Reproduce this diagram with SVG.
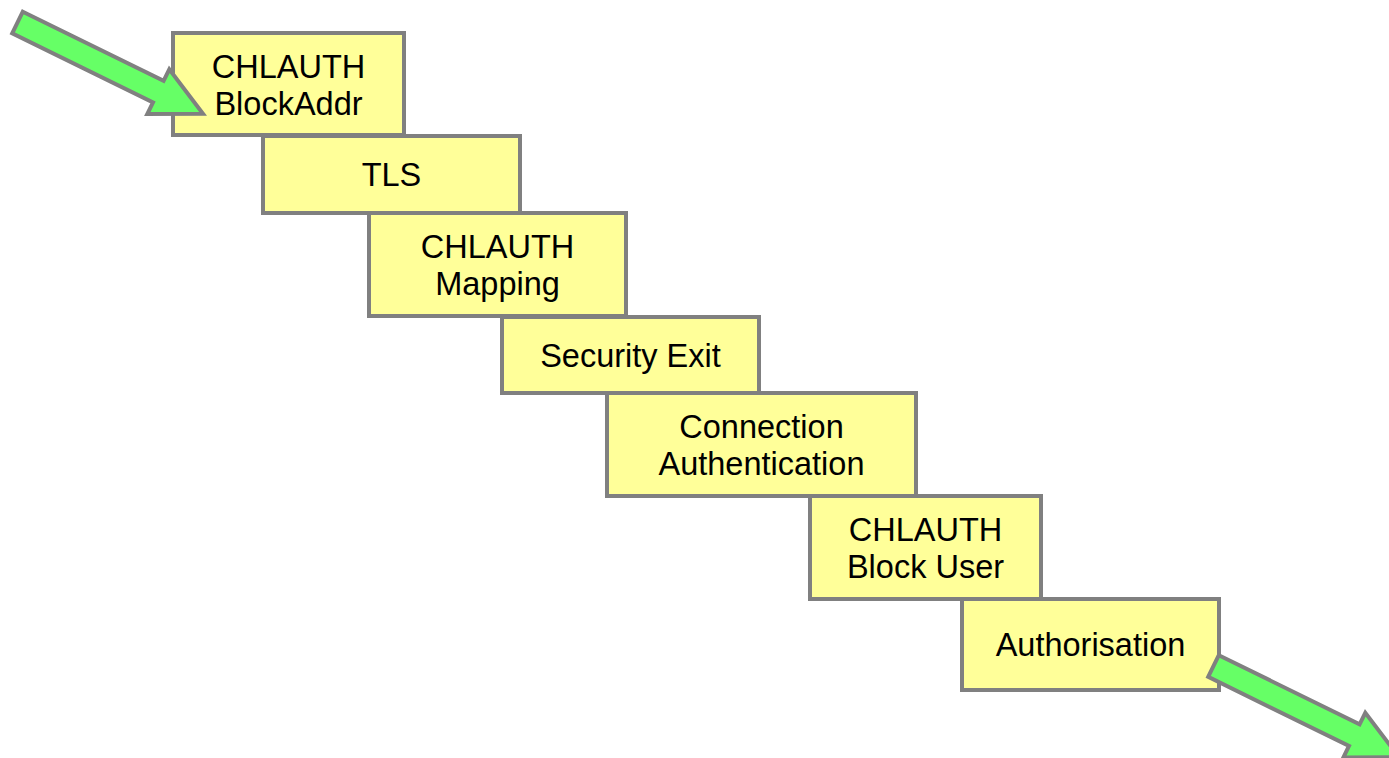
<svg xmlns="http://www.w3.org/2000/svg" xmlns:xlink="http://www.w3.org/1999/xlink" width="1389" height="758" viewBox="0 0 1389 758">
<style>
.box{fill:#FFFF99;stroke:#808080;stroke-width:4}
.lbl{font-family:"Liberation Sans",Arial,sans-serif;font-size:32.5px;fill:#000;text-anchor:middle}
.arr{fill:#66FF66;stroke:#808080;stroke-width:4;stroke-linejoin:miter}
</style>
<defs>
<polygon id="bigArrow" class="arr" points="22.8,11.7 163.6,80.9 169.3,69.3 203,113.7 147.3,114.1 153,102.5 12.2,33.3"/>
</defs>
<rect width="1389" height="758" fill="#fff"/>
<g id="n1"><rect class="box" x="173" y="33" width="231" height="102"/><text class="lbl" x="288.5" y="78">CHLAUTH</text><text class="lbl" x="288.5" y="115">BlockAddr</text></g>
<g id="n2"><rect class="box" x="263" y="136" width="257" height="77"/><text class="lbl" x="391.5" y="186">TLS</text></g>
<g id="n3"><rect class="box" x="369" y="213" width="257" height="103"/><text class="lbl" x="497.5" y="258">CHLAUTH</text><text class="lbl" x="497.5" y="295">Mapping</text></g>
<g id="n4"><rect class="box" x="502" y="317" width="257" height="76"/><text class="lbl" x="630.5" y="367">Security Exit</text></g>
<g id="n5"><rect class="box" x="607" y="393" width="309" height="103"/><text class="lbl" x="761.5" y="438">Connection</text><text class="lbl" x="761.5" y="475">Authentication</text></g>
<g id="n6"><rect class="box" x="810" y="496" width="231" height="103"/><text class="lbl" x="925.5" y="541">CHLAUTH</text><text class="lbl" x="925.5" y="578">Block User</text></g>
<g id="n7"><rect class="box" x="962" y="599" width="257" height="91"/><text class="lbl" x="1090.5" y="656">Authorisation</text></g>
<g id="connectors">
<use xlink:href="#bigArrow" href="#bigArrow"/>
<use xlink:href="#bigArrow" href="#bigArrow" transform="translate(1196,643.5)"/>
</g>
</svg>
